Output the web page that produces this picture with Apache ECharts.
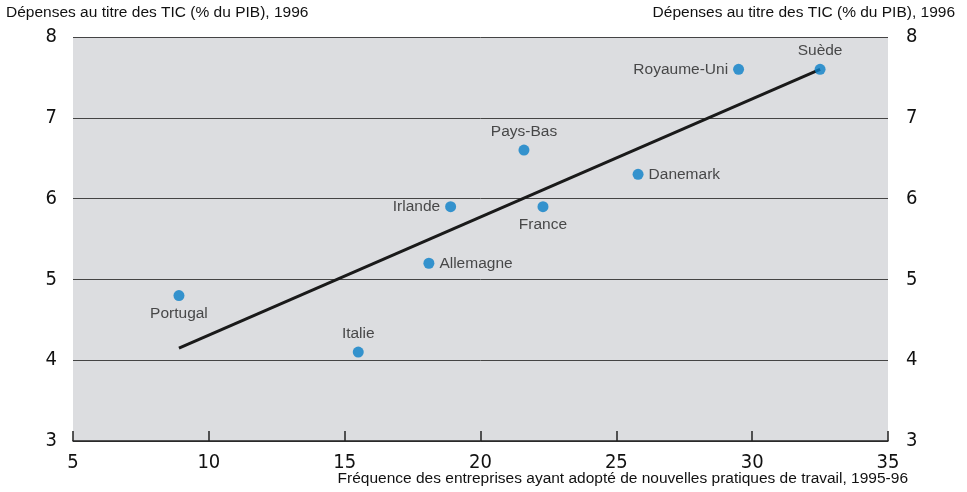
<!DOCTYPE html>
<html>
<head>
<meta charset="utf-8">
<title>Dépenses TIC</title>
<script src="https://cdn.jsdelivr.net/npm/echarts@6/dist/echarts.min.js"></script>
<style>
  html, body { margin: 0; padding: 0; background: #fff; }
  #chart { width: 967px; height: 492px; }
</style>
</head>
<body>
<div id="chart"></div>
<script>
// pays, fréquence (x), dépenses TIC (y)
var countries = ['Portugal', 'Italie', 'Allemagne', 'Irlande', 'France', 'Pays-Bas', 'Danemark', 'Royaume-Uni', 'Suède'];
var freqValues = [8.9, 15.5, 18.1, 18.9, 22.3, 21.6, 25.8, 29.5, 32.5];
var ictValues = [4.8, 4.1, 5.2, 5.9, 5.9, 6.6, 6.3, 7.6, 7.6];
var labelSides = ['bottom', 'top', 'right', 'left', 'bottom', 'top', 'right', 'left', 'top'];

// droite de tendance
var trendX = [8.9, 32.5];
var trendY = [4.15, 7.6];

var yTitle = 'Dépenses au titre des TIC (% du PIB), 1996';
var xTitle = 'Fréquence des entreprises ayant adopté de nouvelles pratiques de travail, 1995-96';

var font = 'Liberation Sans, Arial, sans-serif';
var narrow = 'Liberation Sans Narrow, DejaVu Sans Condensed, Liberation Sans, sans-serif';

var points = [];
for (var i = 0; i < countries.length; i++) {
  points.push({
    name: countries[i],
    value: [freqValues[i], ictValues[i]],
    label: { position: labelSides[i] }
  });
}
var trend = [];
for (var j = 0; j < trendX.length; j++) {
  trend.push([trendX[j], trendY[j]]);
}

var myChart = echarts.init(document.getElementById('chart'));
var option = {
  animation: false,
  grid: {
    left: 73, right: 79, top: 37, bottom: 51,
    show: true,
    backgroundColor: '#dcdde0',
    borderWidth: 0
  },
  graphic: [
    { type: 'text', left: 6, top: 5, style: { text: yTitle, font: '15.5px ' + font, fill: '#111' } },
    { type: 'text', right: 12, top: 5, style: { text: yTitle, font: '15.5px ' + font, fill: '#111' } },
    { type: 'text', right: 59, top: 471, style: { text: xTitle, font: '15.5px ' + font, fill: '#111' } }
  ],
  xAxis: {
    type: 'value', min: 5, max: 35, interval: 5,
    axisLine: { show: true, lineStyle: { color: '#222', width: 1.5 } },
    axisTick: { show: true, inside: true, length: 10, lineStyle: { color: '#222', width: 1.5 } },
    axisLabel: { fontFamily: narrow, fontSize: 20, color: '#111', margin: 12 },
    splitLine: { show: false }
  },
  yAxis: [{
    type: 'value', min: 3, max: 8, interval: 1, position: 'left',
    axisLine: { show: false }, axisTick: { show: false },
    axisLabel: { fontFamily: narrow, fontSize: 20, color: '#111', margin: 16 },
    splitLine: { show: true, lineStyle: { color: '#444', width: 1 } }
  }, {
    type: 'value', min: 3, max: 8, interval: 1, position: 'right',
    axisLine: { show: false }, axisTick: { show: false },
    axisLabel: { fontFamily: narrow, fontSize: 20, color: '#111', margin: 18 },
    splitLine: { show: false }
  }],
  series: [{
    type: 'line',
    data: trend,
    symbol: 'none',
    lineStyle: { color: '#1a1a1a', width: 3 },
    z: 2
  }, {
    type: 'scatter',
    data: points,
    symbolSize: 11,
    itemStyle: { color: '#0a7fc8' },
    label: {
      show: true,
      formatter: '{b}',
      fontFamily: font,
      fontSize: 15.5,
      color: '#222',
      distance: 5
    },
    z: 3
  }]
};
myChart.setOption(option);
</script>
</body>
</html>
